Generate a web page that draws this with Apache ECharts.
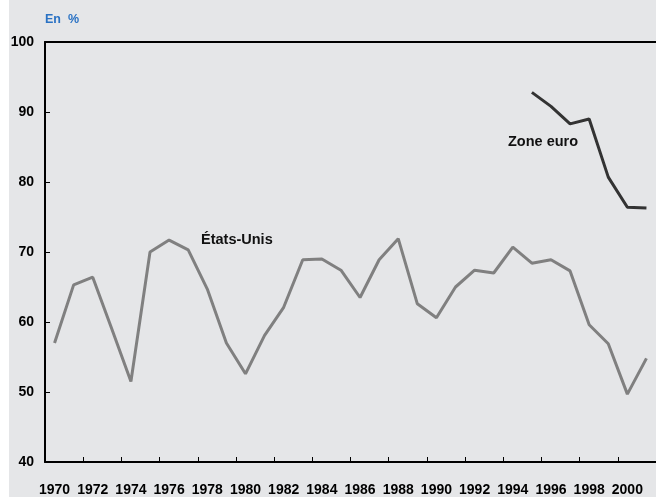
<!DOCTYPE html>
<html><head><meta charset="utf-8">
<script src="https://cdn.jsdelivr.net/npm/echarts@6/dist/echarts.min.js"></script>
<style>html,body{margin:0;padding:0;background:#fff}#c{width:656px;height:497px}</style>
</head><body><div id="c"></div>
<script>
var years = [];
for (var y = 1970; y <= 2001; y++) years.push(String(y));
var usa = [57.0,65.3,66.4,59.0,51.5,70.0,71.7,70.3,64.7,57.0,52.6,58.1,62.1,68.9,69.0,67.4,63.5,68.9,71.9,62.6,60.6,65.0,67.4,67.0,70.7,68.4,68.9,67.3,59.6,56.9,49.7,54.8];
var euro = [null,null,null,null,null,null,null,null,null,null,null,null,null,null,null,null,null,null,null,null,null,null,null,null,null,92.8,90.8,88.3,89.0,80.7,76.4,76.3];
var yTicks = [40,50,60,70,80,90,100];

var chart = echarts.init(document.getElementById('c'), null, {renderer:'canvas'});
var font = '"Liberation Sans", Arial, sans-serif';
chart.setOption({
  backgroundColor: '#e5e6e8',
  animation: false,
  graphic: [
    {type:'rect', left:0, top:0, shape:{width:9, height:497}, style:{fill:'#ffffff'}, z:-1},
    {type:'text', left:45, top:13, style:{text:'En  %', fill:'#2a72c4', font:'bold 12.5px ' + font}},
    {type:'text', left:201, top:232, style:{text:'États-Unis', fill:'#111', font:'bold 14.5px ' + font}},
    {type:'text', left:508, top:134, style:{text:'Zone euro', fill:'#111', font:'bold 14.5px ' + font}}
  ],
  grid: {left:45, top:42, width:614, height:420, containLabel:false},
  xAxis: [{
    type:'category', data: years, boundaryGap:true, position:'bottom',
    axisLine:{show:true, lineStyle:{color:'#000', width:2}},
    axisTick:{show:true, inside:true, length:5, interval:1, lineStyle:{color:'#000', width:1}},
    axisLabel:{interval:1, color:'#000', fontFamily:font, fontWeight:'bold', fontSize:14, margin:21},
    splitLine:{show:false}
  },{
    type:'category', data: years, position:'top',
    axisLine:{show:true, lineStyle:{color:'#000', width:2}},
    axisTick:{show:false}, axisLabel:{show:false}
  }],
  yAxis: {
    type:'value', min:40, max:100, interval:10,
    axisLine:{show:true, lineStyle:{color:'#000', width:2}},
    axisTick:{show:true, inside:true, length:5, lineStyle:{color:'#000', width:1}},
    axisLabel:{color:'#000', fontFamily:font, fontWeight:'bold', fontSize:14, margin:11,
      formatter:function(v){return yTicks.indexOf(v)>=0 ? String(v) : '';}},
    splitLine:{show:false}
  },
  series: [
    {type:'line', data: usa, symbol:'none', lineStyle:{color:'#808080', width:3}, z:2},
    {type:'line', data: euro, symbol:'none', connectNulls:false, lineStyle:{color:'#333333', width:3}, z:3}
  ]
});
</script></body></html>
